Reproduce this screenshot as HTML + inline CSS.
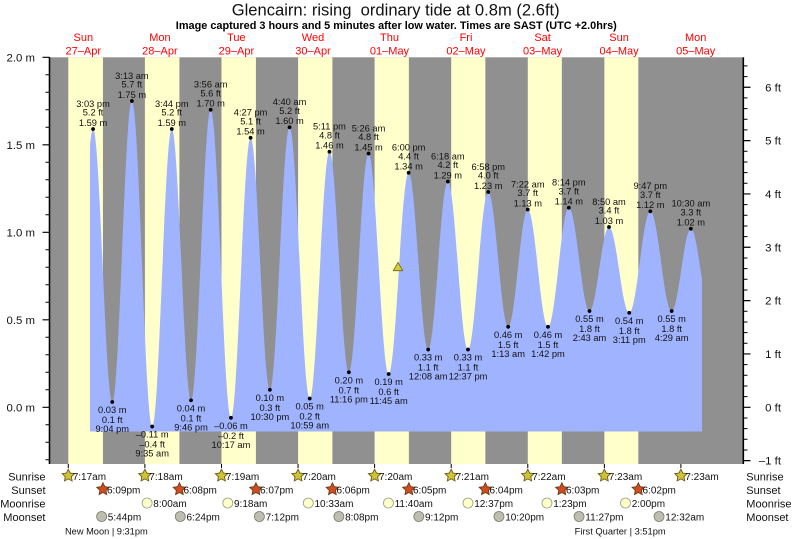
<!DOCTYPE html>
<html><head><meta charset="utf-8"><style>
html,body{margin:0;padding:0;background:#fff;}
svg{display:block;font-family:"Liberation Sans",Arial,sans-serif;}
</style></head><body>
<svg width="793" height="539" viewBox="0 0 793 539" xmlns="http://www.w3.org/2000/svg">
<defs>
<polygon id="star" points="0,-6.5 1.9,-2.6 6.18,-2.01 3.05,0.99 3.82,5.26 0,3.2 -3.82,5.26 -3.05,0.99 -6.18,-2.01 -1.9,-2.6"/>
<clipPath id="fc"><rect x="90" y="50" width="612" height="400"/></clipPath>
</defs>
<rect width="793" height="539" fill="#fff"/>
<!-- title -->
<text x="395.7" y="15.5" font-size="16.6" text-anchor="middle" textLength="328" lengthAdjust="spacingAndGlyphs" fill="#111" xml:space="preserve">Glencairn: rising  ordinary tide at 0.8m (2.6ft)</text>
<text x="396.3" y="29" font-size="11" font-weight="bold" text-anchor="middle" textLength="441" lengthAdjust="spacingAndGlyphs" fill="#000">Image captured 3 hours and 5 minutes after low water. Times are SAST (UTC +2.0hrs)</text>
<!-- day labels -->
<g font-size="11" fill="#ff0000" text-anchor="middle">
<text x="83.3" y="41">Sun</text><text x="83.3" y="54.5">27–Apr</text>
<text x="159.9" y="41">Mon</text><text x="159.9" y="54.5">28–Apr</text>
<text x="236.4" y="41">Tue</text><text x="236.4" y="54.5">29–Apr</text>
<text x="313" y="41">Wed</text><text x="313" y="54.5">30–Apr</text>
<text x="389.5" y="41">Thu</text><text x="389.5" y="54.5">01–May</text>
<text x="466" y="41">Fri</text><text x="466" y="54.5">02–May</text>
<text x="542.6" y="41">Sat</text><text x="542.6" y="54.5">03–May</text>
<text x="619.1" y="41">Sun</text><text x="619.1" y="54.5">04–May</text>
<text x="695.7" y="41">Mon</text><text x="695.7" y="54.5">05–May</text>
</g>
<!-- plot background -->
<rect x="50" y="57.3" width="692" height="406.7" fill="#909090"/>
<g fill="#ffffcc">
<rect x="68.30" y="57.3" width="34.65" height="406.7"/>
<rect x="144.89" y="57.3" width="34.54" height="406.7"/>
<rect x="221.48" y="57.3" width="34.44" height="406.7"/>
<rect x="298.07" y="57.3" width="34.33" height="406.7"/>
<rect x="374.60" y="57.3" width="34.28" height="406.7"/>
<rect x="451.19" y="57.3" width="34.18" height="406.7"/>
<rect x="527.78" y="57.3" width="34.07" height="406.7"/>
<rect x="604.37" y="57.3" width="33.96" height="406.7"/>
</g>
<!-- tide fill -->
<path clip-path="url(#fc)" fill="#a0b3ff" d="M73.24,421.3
C80.45,421.3 85.85,129.05 93.06,129.05
C100.05,129.05 105.26,402.05 112.25,402.05
C119.39,402.05 124.72,101.05 131.86,101.05
C139.25,101.05 144.78,426.55 152.17,426.55
C159.31,426.55 164.64,129.05 171.78,129.05
C178.78,129.05 184.02,400.3 191.02,400.3
C198.18,400.3 203.53,109.8 210.69,109.8
C218.06,109.8 223.57,417.8 230.94,417.8
C238.10,417.8 243.44,137.8 250.60,137.8
C257.62,137.8 262.87,389.8 269.89,389.8
C277.05,389.8 282.40,127.3 289.56,127.3
C296.89,127.3 302.37,398.55 309.70,398.55
C316.90,398.55 322.28,151.8 329.48,151.8
C336.54,151.8 341.82,372.3 348.88,372.3
C356.04,372.3 361.38,153.55 368.54,153.55
C375.87,153.55 381.36,374.05 388.69,374.05
C395.94,374.05 401.37,172.8 408.62,172.8
C415.74,172.8 421.05,349.55 428.17,349.55
C435.33,349.55 440.68,181.55 447.84,181.55
C455.17,181.55 460.66,349.55 467.99,349.55
C475.36,349.55 480.87,192.05 488.24,192.05
C495.49,192.05 500.92,326.8 508.17,326.8
C515.31,326.8 520.64,209.55 527.78,209.55
C535.13,209.55 540.63,326.8 547.98,326.8
C555.56,326.8 561.23,207.8 568.81,207.8
C576.34,207.8 581.96,311.05 589.49,311.05
C596.59,311.05 601.89,227.05 608.99,227.05
C616.36,227.05 621.87,312.8 629.24,312.8
C636.90,312.8 642.63,211.3 650.29,211.3
C658.07,211.3 663.88,311.05 671.66,311.05
C678.64,311.05 683.86,228.8 690.84,228.8
C698.19,228.8 703.69,316.3 711.04,316.3
L711.04,431.5 L73.24,431.5 Z"/>
<!-- dots -->
<g fill="#000">
<circle cx="93.06" cy="129.05" r="1.9"/><circle cx="112.25" cy="402.05" r="1.9"/>
<circle cx="131.86" cy="101.05" r="1.9"/><circle cx="152.17" cy="426.55" r="1.9"/>
<circle cx="171.78" cy="129.05" r="1.9"/><circle cx="191.02" cy="400.3" r="1.9"/>
<circle cx="210.69" cy="109.8" r="1.9"/><circle cx="230.94" cy="417.8" r="1.9"/>
<circle cx="250.60" cy="137.8" r="1.9"/><circle cx="269.89" cy="389.8" r="1.9"/>
<circle cx="289.56" cy="127.3" r="1.9"/><circle cx="309.70" cy="398.55" r="1.9"/>
<circle cx="329.48" cy="151.8" r="1.9"/><circle cx="348.88" cy="372.3" r="1.9"/>
<circle cx="368.54" cy="153.55" r="1.9"/><circle cx="388.69" cy="374.05" r="1.9"/>
<circle cx="408.62" cy="172.8" r="1.9"/><circle cx="428.17" cy="349.55" r="1.9"/>
<circle cx="447.84" cy="181.55" r="1.9"/><circle cx="467.99" cy="349.55" r="1.9"/>
<circle cx="488.24" cy="192.05" r="1.9"/><circle cx="508.17" cy="326.8" r="1.9"/>
<circle cx="527.78" cy="209.55" r="1.9"/><circle cx="547.98" cy="326.8" r="1.9"/>
<circle cx="568.81" cy="207.8" r="1.9"/><circle cx="589.49" cy="311.05" r="1.9"/>
<circle cx="608.99" cy="227.05" r="1.9"/><circle cx="629.24" cy="312.8" r="1.9"/>
<circle cx="650.29" cy="211.3" r="1.9"/><circle cx="671.66" cy="311.05" r="1.9"/>
<circle cx="690.84" cy="228.8" r="1.9"/>
</g>
<!-- high labels -->
<g font-size="9.3" fill="#111" text-anchor="middle">
<text x="93.06" y="106.85">3:03 pm</text><text x="93.06" y="115.55">5.2 ft</text><text x="93.06" y="125.85">1.59 m</text>
<text x="131.86" y="78.85">3:13 am</text><text x="131.86" y="87.55">5.7 ft</text><text x="131.86" y="97.85">1.75 m</text>
<text x="171.78" y="106.85">3:44 pm</text><text x="171.78" y="115.55">5.2 ft</text><text x="171.78" y="125.85">1.59 m</text>
<text x="210.69" y="87.6">3:56 am</text><text x="210.69" y="96.3">5.6 ft</text><text x="210.69" y="106.6">1.70 m</text>
<text x="250.60" y="115.6">4:27 pm</text><text x="250.60" y="124.3">5.1 ft</text><text x="250.60" y="134.6">1.54 m</text>
<text x="289.56" y="105.1">4:40 am</text><text x="289.56" y="113.8">5.2 ft</text><text x="289.56" y="124.1">1.60 m</text>
<text x="329.48" y="129.6">5:11 pm</text><text x="329.48" y="138.3">4.8 ft</text><text x="329.48" y="148.6">1.46 m</text>
<text x="368.54" y="131.35">5:26 am</text><text x="368.54" y="140.05">4.8 ft</text><text x="368.54" y="150.35">1.45 m</text>
<text x="408.62" y="150.6">6:00 pm</text><text x="408.62" y="159.3">4.4 ft</text><text x="408.62" y="169.6">1.34 m</text>
<text x="447.84" y="159.35">6:18 am</text><text x="447.84" y="168.05">4.2 ft</text><text x="447.84" y="178.35">1.29 m</text>
<text x="488.24" y="169.85">6:58 pm</text><text x="488.24" y="178.55">4.0 ft</text><text x="488.24" y="188.85">1.23 m</text>
<text x="527.78" y="187.35">7:22 am</text><text x="527.78" y="196.05">3.7 ft</text><text x="527.78" y="206.35">1.13 m</text>
<text x="568.81" y="185.6">8:14 pm</text><text x="568.81" y="194.3">3.7 ft</text><text x="568.81" y="204.6">1.14 m</text>
<text x="608.99" y="204.85">8:50 am</text><text x="608.99" y="213.55">3.4 ft</text><text x="608.99" y="223.85">1.03 m</text>
<text x="650.29" y="189.1">9:47 pm</text><text x="650.29" y="197.8">3.7 ft</text><text x="650.29" y="208.1">1.12 m</text>
<text x="690.84" y="206.6">10:30 am</text><text x="690.84" y="215.3">3.3 ft</text><text x="690.84" y="225.6">1.02 m</text>
</g>
<!-- low labels -->
<g font-size="9.3" fill="#111" text-anchor="middle">
<text x="112.25" y="413.15">0.03 m</text><text x="112.25" y="423.15">0.1 ft</text><text x="112.25" y="432.15">9:04 pm</text>
<text x="152.17" y="437.65">–0.11 m</text><text x="152.17" y="447.65">–0.4 ft</text><text x="152.17" y="456.65">9:35 am</text>
<text x="191.02" y="411.4">0.04 m</text><text x="191.02" y="421.4">0.1 ft</text><text x="191.02" y="430.4">9:46 pm</text>
<text x="230.94" y="428.9">–0.06 m</text><text x="230.94" y="438.9">–0.2 ft</text><text x="230.94" y="447.9">10:17 am</text>
<text x="269.89" y="400.9">0.10 m</text><text x="269.89" y="410.9">0.3 ft</text><text x="269.89" y="419.9">10:30 pm</text>
<text x="309.70" y="409.65">0.05 m</text><text x="309.70" y="419.65">0.2 ft</text><text x="309.70" y="428.65">10:59 am</text>
<text x="348.88" y="383.4">0.20 m</text><text x="348.88" y="393.4">0.7 ft</text><text x="348.88" y="402.4">11:16 pm</text>
<text x="388.69" y="385.15">0.19 m</text><text x="388.69" y="395.15">0.6 ft</text><text x="388.69" y="404.15">11:45 am</text>
<text x="428.17" y="360.65">0.33 m</text><text x="428.17" y="370.65">1.1 ft</text><text x="428.17" y="379.65">12:08 am</text>
<text x="467.99" y="360.65">0.33 m</text><text x="467.99" y="370.65">1.1 ft</text><text x="467.99" y="379.65">12:37 pm</text>
<text x="508.17" y="337.9">0.46 m</text><text x="508.17" y="347.9">1.5 ft</text><text x="508.17" y="356.9">1:13 am</text>
<text x="547.98" y="337.9">0.46 m</text><text x="547.98" y="347.9">1.5 ft</text><text x="547.98" y="356.9">1:42 pm</text>
<text x="589.49" y="322.15">0.55 m</text><text x="589.49" y="332.15">1.8 ft</text><text x="589.49" y="341.15">2:43 am</text>
<text x="629.24" y="323.9">0.54 m</text><text x="629.24" y="333.9">1.8 ft</text><text x="629.24" y="342.9">3:11 pm</text>
<text x="671.66" y="322.15">0.55 m</text><text x="671.66" y="332.15">1.8 ft</text><text x="671.66" y="341.15">4:29 am</text>
</g>
<!-- current marker -->
<polygon points="398,262.3 393.3,270.7 402.7,270.7" fill="#d6cc3a" stroke="#6e6410" stroke-width="0.8"/>
<!-- axes -->
<g stroke="#000" fill="none">
<line x1="49.5" y1="57.3" x2="49.5" y2="464" stroke-width="1.6"/>
<line x1="743.2" y1="57.3" x2="743.2" y2="464" stroke-width="1.8"/>
<path stroke-width="1" d="M45.5,74.8H49.5M45.5,92.3H49.5M45.5,109.8H49.5M45.5,127.3H49.5M45.5,162.3H49.5M45.5,179.8H49.5M45.5,197.3H49.5M45.5,214.8H49.5M45.5,249.8H49.5M45.5,267.3H49.5M45.5,284.8H49.5M45.5,302.3H49.5M45.5,337.3H49.5M45.5,354.8H49.5M45.5,372.3H49.5M45.5,389.8H49.5M45.5,424.8H49.5M45.5,442.3H49.5M45.5,459.8H49.5"/>
<path stroke-width="1.2" d="M42.5,57.3H49.5M42.5,144.8H49.5M42.5,232.3H49.5M42.5,319.8H49.5M42.5,407.3H49.5"/>
<path stroke-width="1" d="M743,449.97H747.5M743,439.30H747.5M743,428.64H747.5M743,417.97H747.5M743,396.63H747.5M743,385.96H747.5M743,375.30H747.5M743,364.63H747.5M743,343.29H747.5M743,332.62H747.5M743,321.96H747.5M743,311.29H747.5M743,289.95H747.5M743,279.28H747.5M743,268.62H747.5M743,257.95H747.5M743,236.61H747.5M743,225.94H747.5M743,215.28H747.5M743,204.61H747.5M743,183.27H747.5M743,172.60H747.5M743,161.94H747.5M743,151.27H747.5M743,129.93H747.5M743,119.26H747.5M743,108.60H747.5M743,97.93H747.5M743,76.59H747.5M743,65.92H747.5"/>
<path stroke-width="1.2" d="M743,460.64H750.5M743,407.30H750.5M743,353.96H750.5M743,300.62H750.5M743,247.28H750.5M743,193.94H750.5M743,140.60H750.5M743,87.26H750.5"/>
<path stroke-width="1" d="M68.3,464V468M144.89,464V468M221.48,464V468M298.07,464V468M374.6,464V468M451.19,464V468M527.78,464V468M604.37,464V468M680.9,464V468"/>
</g>
<g font-size="11.4" fill="#111" text-anchor="end">
<text x="35" y="61.3">2.0 m</text>
<text x="35" y="148.8">1.5 m</text>
<text x="35" y="236.3">1.0 m</text>
<text x="35" y="323.8">0.5 m</text>
<text x="35" y="411.3">0.0 m</text>
<text x="781" y="91.3">6 ft</text>
<text x="781" y="144.6">5 ft</text>
<text x="781" y="197.9">4 ft</text>
<text x="781" y="251.3">3 ft</text>
<text x="781" y="304.6">2 ft</text>
<text x="781" y="358">1 ft</text>
<text x="781" y="411.3">0 ft</text>
<text x="781" y="464.6">–1 ft</text>
</g>
<!-- sun/moon rows -->
<g font-size="11" fill="#111">
<text x="45.5" y="480.5" text-anchor="end">Sunrise</text>
<text x="45.5" y="494" text-anchor="end">Sunset</text>
<text x="45.5" y="507.3" text-anchor="end">Moonrise</text>
<text x="45.5" y="521" text-anchor="end">Moonset</text>
<text x="746.3" y="480.5">Sunrise</text>
<text x="746.3" y="494">Sunset</text>
<text x="746.3" y="507.3">Moonrise</text>
<text x="746.3" y="521">Moonset</text>
</g>
<g fill="#cfc435" stroke="#6a5a18" stroke-width="0.9">
<use href="#star" x="68.30" y="475.7"/><use href="#star" x="144.89" y="475.7"/><use href="#star" x="221.48" y="475.7"/>
<use href="#star" x="298.07" y="475.7"/><use href="#star" x="374.60" y="475.7"/><use href="#star" x="451.19" y="475.7"/>
<use href="#star" x="527.78" y="475.7"/><use href="#star" x="604.37" y="475.7"/><use href="#star" x="680.90" y="475.7"/>
</g>
<g fill="#d24c22" stroke="#6a3a14" stroke-width="0.9">
<use href="#star" x="102.95" y="489.3"/><use href="#star" x="179.43" y="489.3"/><use href="#star" x="255.92" y="489.3"/>
<use href="#star" x="332.40" y="489.3"/><use href="#star" x="408.88" y="489.3"/><use href="#star" x="485.37" y="489.3"/>
<use href="#star" x="561.85" y="489.3"/><use href="#star" x="638.33" y="489.3"/>
</g>
<g fill="#ffffc8" stroke="#9a9a8a" stroke-width="0.8">
<circle cx="147.12" cy="503" r="5"/><circle cx="227.80" cy="503" r="5"/><circle cx="308.32" cy="503" r="5"/>
<circle cx="388.42" cy="503" r="5"/><circle cx="467.99" cy="503" r="5"/><circle cx="546.97" cy="503" r="5"/>
<circle cx="625.47" cy="503" r="5"/>
</g>
<g fill="#bdbdb0" stroke="#7a7a70" stroke-width="0.8">
<circle cx="101.62" cy="516.5" r="5"/><circle cx="180.28" cy="516.5" r="5"/><circle cx="259.37" cy="516.5" r="5"/>
<circle cx="338.88" cy="516.5" r="5"/><circle cx="418.82" cy="516.5" r="5"/><circle cx="498.97" cy="516.5" r="5"/>
<circle cx="579.07" cy="516.5" r="5"/><circle cx="659.06" cy="516.5" r="5"/>
</g>
<g font-size="10" fill="#111">
<text x="72.7" y="480">7:17am</text><text x="149.3" y="480">7:18am</text><text x="225.9" y="480">7:19am</text>
<text x="302.5" y="480">7:20am</text><text x="379" y="480">7:20am</text><text x="455.6" y="480">7:21am</text>
<text x="532.2" y="480">7:22am</text><text x="608.8" y="480">7:23am</text><text x="685.3" y="480">7:23am</text>
<text x="107" y="493.5">6:09pm</text><text x="183.5" y="493.5">6:08pm</text><text x="260" y="493.5">6:07pm</text>
<text x="336.5" y="493.5">6:06pm</text><text x="413" y="493.5">6:05pm</text><text x="489.5" y="493.5">6:04pm</text>
<text x="566" y="493.5">6:03pm</text><text x="642.5" y="493.5">6:02pm</text>
<text x="153.3" y="507">8:00am</text><text x="234" y="507">9:18am</text><text x="314.5" y="507">10:33am</text>
<text x="394.6" y="507">11:40am</text><text x="474.2" y="507">12:37pm</text><text x="553.2" y="507">1:23pm</text>
<text x="631.7" y="507">2:00pm</text>
<text x="107.8" y="520.5">5:44pm</text><text x="186.5" y="520.5">6:24pm</text><text x="265.6" y="520.5">7:12pm</text>
<text x="345.1" y="520.5">8:08pm</text><text x="425" y="520.5">9:12pm</text><text x="505.2" y="520.5">10:20pm</text>
<text x="585.3" y="520.5">11:27pm</text><text x="665.3" y="520.5">12:32am</text>
</g>
<g font-size="9.2" fill="#111">
<text x="65" y="534.5" textLength="82.7" lengthAdjust="spacingAndGlyphs">New Moon | 9:31pm</text>
<text x="574.7" y="534.5" textLength="91" lengthAdjust="spacingAndGlyphs">First Quarter | 3:51pm</text>
</g>
</svg>
</body></html>
